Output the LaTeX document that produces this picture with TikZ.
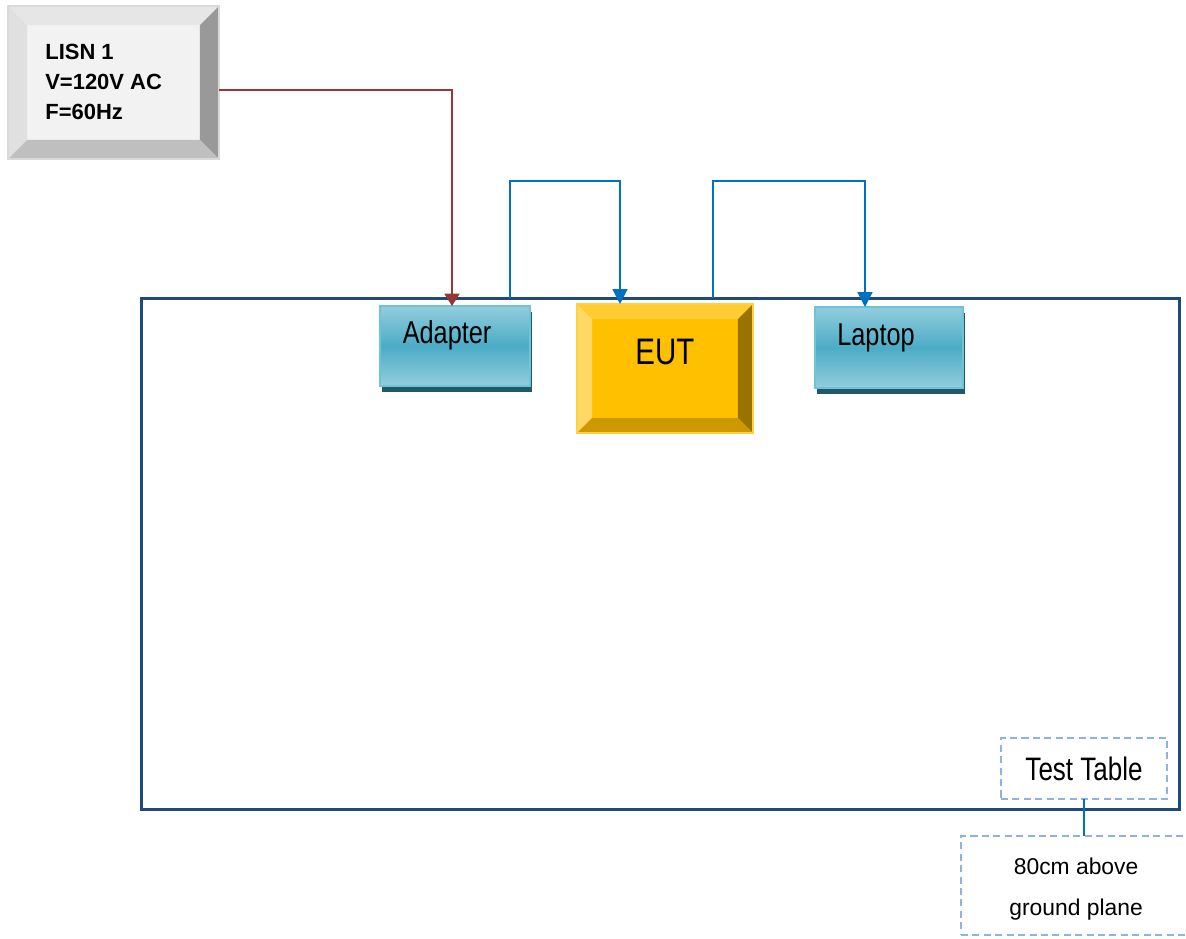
\documentclass[tikz,border=0pt]{standalone}
\usepackage{fontspec}
\setmainfont{Liberation Sans}
\newfontfamily\narrowfont[FakeStretch=0.8]{Liberation Sans}
\usetikzlibrary{positioning, calc, shadows, arrows.meta}
\usepackage{xcolor}
\definecolor{lisnFace}{RGB}{242, 242, 242}
\definecolor{lisnTop}{RGB}{230, 230, 230}
\definecolor{lisnLeft}{RGB}{224, 224, 224}
\definecolor{lisnRight}{RGB}{153, 153, 153}
\definecolor{lisnBottom}{RGB}{191, 191, 191}
\definecolor{lisnBorder}{RGB}{217, 217, 217}
\definecolor{eutFace}{RGB}{255, 192, 0}
\definecolor{eutTop}{RGB}{255, 205, 51}
\definecolor{eutLeft}{RGB}{255, 217, 102}
\definecolor{eutRight}{RGB}{153, 115, 0}
\definecolor{eutBottom}{RGB}{204, 154, 0}
\definecolor{eutBorder}{RGB}{255, 210, 60}
\definecolor{tealMid}{RGB}{75, 172, 198}
\definecolor{tealLight}{RGB}{147, 205, 221}
\definecolor{tealBorder}{RGB}{110, 195, 214}
\definecolor{tealShadow}{RGB}{33, 89, 104}
\definecolor{tableBlue}{RGB}{31, 73, 125}
\definecolor{wireRed}{RGB}{149, 55, 53}
\definecolor{wireBlue}{RGB}{0, 112, 192}
\definecolor{dashBlue}{RGB}{141, 179, 226}

% bevel facets: name, inset, top, left, right, bottom, border
\newcommand{\bevelfacets}[7]{%
  \fill[#3] (#1.north west) -- (#1.north east) -- ($(#1.north east)+(-#2,#2)$) -- ($(#1.north west)+(#2,#2)$) -- cycle;
  \fill[#4] (#1.north west) -- ($(#1.north west)+(#2,#2)$) -- ($(#1.south west)+(#2,-#2)$) -- (#1.south west) -- cycle;
  \fill[#5] (#1.north east) -- (#1.south east) -- ($(#1.south east)+(-#2,-#2)$) -- ($(#1.north east)+(-#2,#2)$) -- cycle;
  \fill[#6] (#1.south west) -- (#1.south east) -- ($(#1.south east)+(-#2,-#2)$) -- ($(#1.south west)+(#2,-#2)$) -- cycle;
  \draw[#7, line width=0.8pt] (#1.north west) rectangle (#1.south east);
}

\begin{document}
\begin{tikzpicture}[
    x=0.02cm, y=-0.02cm,
    bevelbox/.style={
        rectangle,
        outer sep=0pt,
        inner sep=0pt
    },
    tealbox/.style={
        rectangle,
        outer sep=0pt,
        draw=tealBorder,
        line width=1.2pt,
        top color=tealLight,
        bottom color=tealLight,
        middle color=tealMid,
        drop shadow={shadow xshift=1.3pt, shadow yshift=-3.2pt, fill=tealShadow, opacity=1}
    },
    tablebox/.style={
        rectangle,
        outer sep=0pt,
        draw=tableBlue,
        line width=1.7pt
    },
    notebox/.style={
        rectangle,
        outer sep=0pt,
        draw=dashBlue,
        line width=0.9pt,
        dash pattern=on 4pt off 2.5pt
    },
    redwire/.style={
        draw=wireRed,
        line width=1.1pt,
        -{Triangle[width=8.5pt,length=7pt]}
    },
    bluewire/.style={
        draw=wireBlue,
        line width=1.1pt,
        -{Triangle[width=8.5pt,length=8.5pt]}
    }
]
\useasboundingbox (0,0) rectangle (1186,938);
\clip (0,0) rectangle (1186,938);

% Test table outline
\node[tablebox, minimum width=20.78cm, minimum height=10.24cm] (table) at (660.5,554) {};

% LISN
\node[bevelbox, fill=lisnFace, minimum width=4.22cm, minimum height=3.06cm] (lisn) at (113.5,82.5) {};
\bevelfacets{lisn}{19}{lisnTop}{lisnLeft}{lisnRight}{lisnBottom}{lisnBorder}
\node[font=\fontsize{12.5}{17}\selectfont\bfseries, align=left, anchor=west, inner sep=0pt] (lisntext) at (45,82) {LISN 1\\V=120V AC\\F=60Hz};

% Equipment on the table
\node[tealbox, minimum width=3cm, minimum height=1.6cm,
      label={[font=\narrowfont\fontsize{18}{20}\selectfont, xshift=-4.5pt, yshift=6.2pt]center:Adapter}] (adapter) at (455,346) {};

\node[bevelbox, fill=eutFace, minimum width=3.52cm, minimum height=2.58cm] (eut) at (665,368.5) {};
\bevelfacets{eut}{15}{eutTop}{eutLeft}{eutRight}{eutBottom}{eutBorder}
\node[font=\narrowfont\fontsize{21}{24}\selectfont] (euttext) at (665,352) {EUT};

\node[tealbox, minimum width=2.96cm, minimum height=1.62cm,
      label={[font=\narrowfont\fontsize{18}{20}\selectfont, xshift=-7.4pt, yshift=5.4pt]center:Laptop}] (laptop) at (889,347.5) {};

% Notes
\node[notebox, minimum width=3.32cm, minimum height=1.22cm, font=\narrowfont\fontsize{18.5}{20}\selectfont] (testtable) at (1084,768.5) {Test Table};
\node[notebox, minimum width=5.8cm, minimum height=1.98cm, below=0.74cm of testtable, xshift=12.5pt,
      label={[align=center, font=\fontsize{13}{23.8}\selectfont, xshift=-17pt, yshift=-2pt]center:80cm above\\ground plane}] (ground) {};

% Connections
\coordinate (adapterport) at (510,298);
\coordinate (eutport) at (713,298);

\draw[redwire] ([yshift=-4pt]lisn.east) -| ($(adapter.north)+(-3,0)$);
\draw[bluewire] (adapterport) -- ++(0,-117) -| ($(eut.north)+(-45,0)$);
\draw[bluewire] (eutport) -- ++(0,-117) -| ($(laptop.north)+(-24,0)$);
\draw[draw=wireBlue, line width=1.1pt] (testtable.south) -- (testtable.south |- ground.north);

\end{tikzpicture}
\end{document}
